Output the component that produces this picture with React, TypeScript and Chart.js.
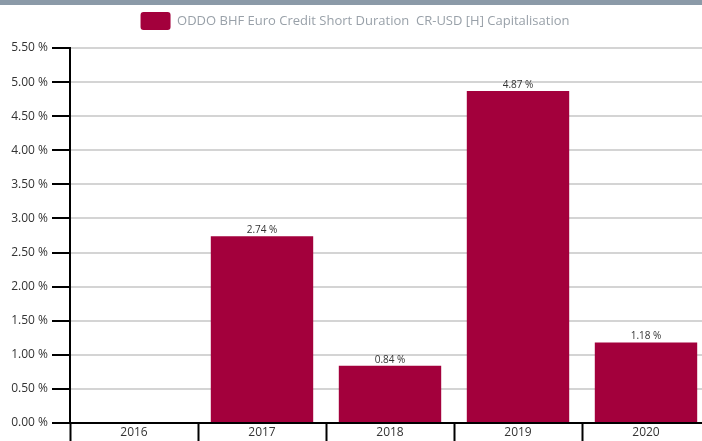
import React, { useEffect, useRef } from "react";
import { Chart, registerables } from "chart.js";

Chart.register(...registerables);

const categories = ["2016", "2017", "2018", "2019", "2020"];
const values: (number | null)[] = [null, 2.74, 0.84, 4.87, 1.18];
const seriesName = "ODDO BHF Euro Credit Short Duration  CR-USD [H] Capitalisation";
const yMin = 0;
const yMax = 5.5;
const yStep = 0.5;

const BAR_COLOR = "#a3003c";
const FONT = "'Open Sans', 'Noto Sans', sans-serif";

const valueLabels = {
  id: "valueLabels",
  afterDatasetsDraw(chart: any) {
    const ctx = chart.ctx;
    const meta = chart.getDatasetMeta(0);
    ctx.save();
    ctx.font = "10px " + FONT;
    ctx.fillStyle = "#333";
    ctx.textAlign = "center";
    ctx.textBaseline = "bottom";
    meta.data.forEach((el: any, i: number) => {
      const v = values[i];
      if (v === null || v === undefined) return;
      ctx.fillText(v.toFixed(2) + " %", el.x, el.y - 1);
    });
    ctx.restore();
  },
};

const legendSpacing = {
  id: "legendSpacing",
  beforeInit(chart: any) {
    const legend = chart.legend;
    const origFit = legend.fit;
    legend.fit = function () {
      origFit.bind(legend)();
      this.height += 8;
    };
  },
};

export default function App() {
  const ref = useRef<HTMLCanvasElement>(null);
  useEffect(() => {
    document.body.style.margin = "0";
    document.body.style.overflow = "hidden";
    const chart = new Chart(ref.current!, {
      type: "bar",
      data: {
        labels: categories,
        datasets: [
          {
            label: seriesName,
            data: values,
            backgroundColor: BAR_COLOR,
            borderWidth: 0,
            categoryPercentage: 0.8,
            barPercentage: 1.0,
          },
        ],
      },
      options: {
        responsive: false,
        animation: false,
        devicePixelRatio: 1,
        layout: { padding: { top: 2, left: 0, right: 2, bottom: 0 } },
        plugins: {
          tooltip: { enabled: false },
          legend: {
            display: true,
            position: "top",
            labels: {
              boxWidth: 30,
              boxHeight: 18,
              useBorderRadius: true,
              borderRadius: 3,
              padding: 10,
              color: "#99a1a9",
              font: { family: FONT, size: 13 },
            },
          },
        },
        scales: {
          x: {
            border: { display: true, color: "#000", width: 2 },
            grid: {
              display: true,
              drawOnChartArea: false,
              drawTicks: true,
              tickLength: 18,
              tickColor: "#000",
              tickWidth: 2,
              offset: true,
            },
            ticks: {
              padding: -16,
              color: "#333",
              font: { family: FONT, size: 12 },
            },
            afterFit(scale: any) {
              scale.height = 18;
            },
          },
          y: {
            min: yMin,
            max: yMax,
            border: { display: true, color: "#000", width: 2 },
            grid: {
              color: "#d4d4d4",
              lineWidth: 2,
              tickLength: 18,
              tickColor: "#000",
              tickWidth: 2,
            },
            ticks: {
              stepSize: yStep,
              padding: 4,
              color: "#333",
              font: { family: FONT, size: 12 },
              callback: (v: any) => Number(v).toFixed(2) + " %",
            },
            afterFit(scale: any) {
              scale.width = 70;
            },
          },
        },
      },
      plugins: [legendSpacing, valueLabels],
    });
    return () => chart.destroy();
  }, []);

  return (
    <div style={{ position: "absolute", left: 0, top: 0, width: 702, height: 441, overflow: "hidden", background: "#fff" }}>
      <canvas ref={ref} width={712} height={441} style={{ position: "absolute", left: 0, top: 0 }} />
      <div style={{ position: "absolute", left: 0, top: 0, width: 702, height: 5, background: "#8b9aa8" }} />
    </div>
  );
}
